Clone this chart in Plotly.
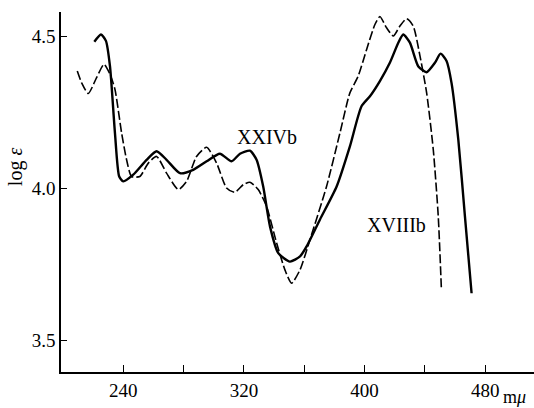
import plotly.graph_objects as go

# XXIVb (solid)
x_xxiv = [220.8, 225.2, 228.5, 231.2, 234.5, 237.3, 240.0, 246.6, 255.5, 262.1, 268.7, 277.6,
          286.4, 295.3, 304.1, 311.8, 317.4, 324.0, 328.4, 332.8, 337.3, 342.8, 350.5, 357.2,
          361.6, 370.4, 381.5, 390.3, 398.0, 403.6, 410.2, 416.8, 422.4, 425.7, 430.1, 435.7,
          441.2, 446.7, 450.4, 454.4, 457.7, 462.2, 466.6, 471.0]
y_xxiv = [4.481, 4.505, 4.484, 4.40, 4.18, 4.038, 4.022, 4.044, 4.093, 4.121, 4.093, 4.049,
          4.06, 4.088, 4.113, 4.088, 4.113, 4.123, 4.093, 4.005, 3.874, 3.786, 3.758, 3.775,
          3.808, 3.896, 4.005, 4.137, 4.269, 4.302, 4.352, 4.412, 4.478, 4.505, 4.478, 4.40,
          4.381, 4.412, 4.442, 4.418, 4.346, 4.159, 3.907, 3.654]

# XVIIIb (dashed)
x_xviii = [209.5, 212.4, 216.8, 222.3, 227.2, 231.2, 234.5, 238.9, 242.2, 245.5, 251.0, 256.6,
           262.1, 268.7, 276.5, 282.0, 288.6, 295.3, 301.9, 308.5, 314.0, 319.6, 324.0, 329.5,
           335.0, 341.7, 347.2, 351.6, 357.2, 363.8, 374.8, 383.7, 390.3, 395.8, 401.4, 406.9,
           410.2, 414.6, 419.1, 423.5, 427.9, 432.3, 436.8, 441.2, 445.6, 448.9, 451.0]
y_xviii = [4.385, 4.346, 4.311, 4.363, 4.407, 4.374, 4.324, 4.181, 4.093, 4.038, 4.038, 4.082,
           4.104, 4.049, 3.995, 4.022, 4.104, 4.134, 4.082, 4.0, 3.986, 4.011, 4.019, 3.995,
           3.94, 3.819, 3.731, 3.687, 3.731, 3.830, 4.005, 4.181, 4.313, 4.368, 4.456, 4.538,
           4.564, 4.527, 4.5, 4.533, 4.557, 4.533, 4.434, 4.313, 4.126, 3.907, 3.665]

x_ticks = [240, 320, 400, 480]
x_minor = [280, 360, 440]
y_ticks = [3.5, 4.0, 4.5]

FONT = "Liberation Serif"

fig = go.Figure()
fig.add_trace(go.Scatter(x=x_xxiv, y=y_xxiv, mode="lines",
                         line=dict(color="black", width=2.4, shape="spline", smoothing=0.6),
                         showlegend=False))
fig.add_trace(go.Scatter(x=x_xviii, y=y_xviii, mode="lines",
                         line=dict(color="black", width=1.6, dash="9px,3px", shape="spline", smoothing=0.6),
                         showlegend=False))

fig.add_annotation(x=335.3, y=4.169, text="XXIVb", showarrow=False,
                   font=dict(family=FONT, size=20, color="black"))
fig.add_annotation(x=421.5, y=3.879, text="XVIIIb", showarrow=False,
                   font=dict(family=FONT, size=20, color="black"))
fig.add_annotation(xref="paper", yref="paper", x=-0.125, y=0.57, text="log <i>ε</i>",
                   textangle=-90, showarrow=False, font=dict(family=FONT, size=20, color="black"))
fig.add_annotation(xref="paper", yref="paper", x=0.93, y=-0.07, text="m<i>μ</i>",
                   showarrow=False, xanchor="left", yanchor="middle",
                   font=dict(family=FONT, size=18, color="black"))

fig.update_layout(
    width=534, height=408,
    margin=dict(l=61, r=0, t=12, b=36),
    paper_bgcolor="white", plot_bgcolor="white",
    font=dict(family=FONT, color="black"),
    xaxis=dict(range=[198.7, 512.4], tickvals=x_ticks, ticktext=[str(v) for v in x_ticks],
               ticks="inside", ticklen=7, tickwidth=1.2, tickcolor="black",
               minor=dict(tickvals=x_minor, ticks="inside", ticklen=7, tickwidth=1.2, tickcolor="black"),
               showline=True, linecolor="black", linewidth=1.5, showgrid=False, zeroline=False,
               tickfont=dict(family=FONT, size=19, color="black")),
    yaxis=dict(range=[3.395, 4.579], tickvals=y_ticks, ticktext=["3.5", "4.0", "4.5"],
               ticks="inside", ticklen=6, tickwidth=1.2, tickcolor="black",
               showline=True, linecolor="black", linewidth=1.5, showgrid=False, zeroline=False,
               tickfont=dict(family=FONT, size=19, color="black")),
)

fig.write_html("out.html", config={"displayModeBar": False},
               post_script="document.body.style.margin='0';document.body.style.overflow='hidden';")
